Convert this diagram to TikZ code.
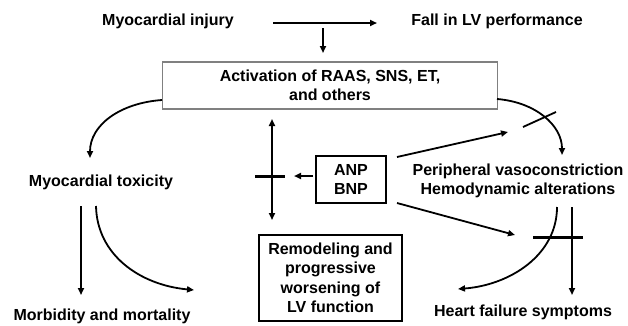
\documentclass[tikz,border=0pt]{standalone}
\usepackage{fontspec}
\setmainfont{Liberation Sans}
\usetikzlibrary{arrows.meta}
\begin{document}
\begin{tikzpicture}[x=1pt,y=-1pt,
  font=\fontsize{16}{19.5}\selectfont\bfseries,
  arr/.style={line width=1.8pt,-{Triangle[length=7pt,width=6pt]}},
  darr/.style={line width=1.8pt,{Triangle[length=7pt,width=6pt]}-{Triangle[length=7pt,width=6pt]}},
  thin bar/.style={line width=1.8pt},
  thick bar/.style={line width=3pt},
  lbl/.style={inner sep=0pt,align=center},
  graybox/.style={draw=black!50,line width=1.5pt,align=center,inner sep=0pt},
  blackbox/.style={draw=black,line width=1.3pt,align=center,inner sep=0pt}]
\useasboundingbox (0,0) rectangle (628,325);

% text nodes
\node[lbl] (inj) at (168,21) {Myocardial injury};
\node[lbl] (fall) at (497,21) {Fall in LV performance};
\node[graybox,minimum width=335pt,minimum height=47pt] (act) at (330,85.5)
  {Activation of RAAS, SNS, ET,\\and others};
\node[lbl] (tox) at (101,182) {Myocardial toxicity};
\node[lbl] (morb) at (102,316) {Morbidity and mortality};
\node[blackbox,minimum width=70pt,minimum height=47pt] (anp) at (351,179.5) {ANP\\BNP};
\node[blackbox,minimum width=143pt,minimum height=86pt] (rem) at (330.5,278)
  {Remodeling and\\progressive\\worsening of\\LV function};
\node[lbl] (pv) at (518,181) {Peripheral vasoconstriction\\Hemodynamic alterations};
\node[lbl] (hf) at (523,312) {Heart failure symptoms};

% free connector ends
\coordinate (h1) at (273,23);
\coordinate (h2) at (377,23);
\coordinate (d1) at (323,28);
\coordinate (d2) at (323,53);
\coordinate (lc1) at (162,100);
\coordinate (lc2) at (90,158);
\coordinate (rc1) at (497,99);
\coordinate (rc2) at (562,155);
\coordinate (rx1) at (523,127);
\coordinate (rx2) at (556,112);
\coordinate (v1) at (272,119);
\coordinate (v2) at (272,220);
\coordinate (vb1) at (255,176);
\coordinate (vb2) at (285,176);
\coordinate (ab1) at (313,176);
\coordinate (ab2) at (294,176);
\coordinate (up1) at (397,157);
\coordinate (up2) at (508,132);
\coordinate (lo1) at (397,203);
\coordinate (lo2) at (515,235);
\coordinate (t1) at (81,206);
\coordinate (t2) at (81,295);
\coordinate (tc1) at (96,206);
\coordinate (tc2) at (194,290);
\coordinate (bc1) at (557,207);
\coordinate (bc2) at (458,289);
\coordinate (bs1) at (572,207);
\coordinate (bs2) at (572,295);
\coordinate (bb1) at (533,237);
\coordinate (bb2) at (583,237);

% connectors
\draw[arr] (h1) -- (h2);
\draw[arr] (d1) -- (d2);
\draw[arr] (lc1) .. controls (120,103) and (90,125) .. (lc2);
\draw[arr] (rc1) .. controls (535,102) and (562,125) .. (rc2);
\draw[thin bar] (rx1) -- (rx2);
\draw[darr] (v1) -- (v2);
\draw[thick bar] (vb1) -- (vb2);
\draw[arr] (ab1) -- (ab2);
\draw[arr] (up1) -- (up2);
\draw[arr] (lo1) -- (lo2);
\draw[arr] (t1) -- (t2);
\draw[arr] (tc1) .. controls (97,255) and (140,285) .. (tc2);
\draw[arr] (bc1) .. controls (557,255) and (510,285) .. (bc2);
\draw[arr] (bs1) -- (bs2);
\draw[thick bar] (bb1) -- (bb2);
\end{tikzpicture}
\end{document}
